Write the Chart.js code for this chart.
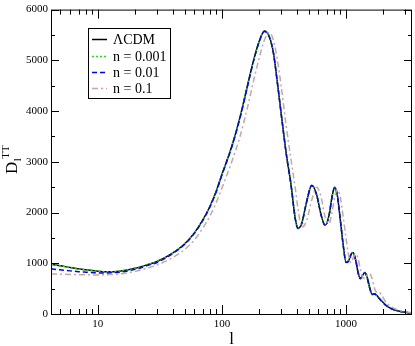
<!DOCTYPE html>
<html>
<head>
<meta charset="utf-8">
<script src="https://cdn.jsdelivr.net/npm/chart.js@4"></script>
<style>
  html, body { margin: 0; padding: 0; background: #fff; }
  #wrap { width: 415px; height: 346px; }
</style>
</head>
<body>
<div id="wrap"><canvas id="chart-tt" width="415" height="346"></canvas></div>
<script>
// multipole grid shared by all curves
const ells = [4.2, 5, 6, 7, 8, 10, 12, 15, 20, 25, 30, 40, 50, 60, 70, 80, 90, 100, 120, 140,
  160, 180, 200, 220, 240, 260, 280, 300, 330, 360, 390, 410, 440, 480, 530, 580, 630, 680,
  730, 770, 810, 850, 900, 950, 1000, 1050, 1100, 1140, 1200, 1250, 1300, 1360, 1420, 1480,
  1550, 1620, 1700, 1780, 1850, 1950, 2100, 2300, 2500, 2800, 3100, 3400];

const lcdm = [980, 950, 915, 890, 870, 845, 835, 845, 900, 970, 1035, 1200, 1380, 1600, 1850,
  2120, 2420, 2750, 3300, 3880, 4480, 5000, 5380, 5580, 5480, 5150, 4560, 3960, 3160, 2560,
  1880, 1690, 1790, 2200, 2540, 2350, 1950, 1750, 1950, 2300, 2500, 2350, 1850, 1350, 1020,
  1050, 1180, 1210, 1050, 820, 700, 760, 820, 720, 520, 390, 400, 360, 310, 250, 170, 110,
  75, 45, 30, 20];

const n0001 = [978, 948, 913, 888, 868, 843, 834, 844, 899, 969, 1034, 1199, 1379, 1599, 1849,
  2119, 2418, 2748, 3298, 3878, 4478, 4998, 5378, 5578, 5478, 5148, 4558, 3958, 3158, 2558,
  1879, 1689, 1789, 2199, 2538, 2349, 1949, 1749, 1949, 2299, 2499, 2349, 1849, 1349, 1019,
  1049, 1179, 1209, 1049, 819, 699, 759, 819, 719, 519, 389, 399, 359, 309, 249, 169, 109,
  75, 45, 30, 20];

const n001 = [890, 870, 850, 835, 825, 810, 810, 825, 880, 955, 1015, 1190, 1370, 1590, 1840,
  2110, 2410, 2740, 3290, 3870, 4470, 4990, 5370, 5570, 5470, 5140, 4550, 3950, 3150, 2550,
  1875, 1685, 1785, 2195, 2535, 2345, 1945, 1745, 1945, 2295, 2495, 2345, 1845, 1345, 1015,
  1045, 1175, 1205, 1045, 815, 695, 755, 815, 715, 515, 385, 395, 355, 305, 245, 168, 108,
  74, 44, 30, 20];

const n01 = [790, 785, 780, 775, 772, 770, 775, 790, 840, 905, 965, 1110, 1270, 1460, 1690,
  1930, 2200, 2480, 3000, 3500, 4050, 4600, 5050, 5400, 5550, 5400, 5000, 4500, 3700, 3050,
  2480, 2080, 1710, 1830, 2250, 2500, 2300, 1900, 1780, 2000, 2300, 2450, 2300, 1900, 1500,
  1150, 1010, 1100, 1180, 1100, 900, 720, 700, 770, 800, 700, 500, 420, 420, 360, 230, 150,
  100, 60, 40, 28];

const yTicks = [0, 1000, 2000, 3000, 4000, 5000, 6000];
const yMinor = [500, 1500, 2500, 3500, 4500, 5500];
const xTicks = [10, 100, 1000];
const xMinor = [5, 6, 7, 8, 9, 20, 30, 40, 50, 60, 70, 80, 90,
  200, 300, 400, 500, 600, 700, 800, 900, 2000, 3000];

const SERIF = '"Liberation Serif", "DejaVu Serif", serif';

const toPts = vals => ells.map((l, i) => ({ x: l, y: vals[i] }));

// frame, inward ticks, titles and inset legend
const framePlugin = {
  id: 'frame',
  afterDraw(chart) {
    const { ctx, chartArea: a, scales } = chart;
    const xs = scales.x, ys = scales.y;
    ctx.save();
    ctx.strokeStyle = '#000';
    ctx.lineWidth = 1;
    ctx.strokeRect(a.left + 0.5, a.top + 0.5, a.right - a.left - 1, a.bottom - a.top);

    ctx.beginPath();
    const xt = (v, len) => {
      const p = Math.round(xs.getPixelForValue(v)) + 0.5;
      ctx.moveTo(p, a.bottom); ctx.lineTo(p, a.bottom - len);
      ctx.moveTo(p, a.top); ctx.lineTo(p, a.top + len);
    };
    const yt = (v, len) => {
      const p = Math.round(ys.getPixelForValue(v)) + 0.5;
      ctx.moveTo(a.left, p); ctx.lineTo(a.left + len, p);
      ctx.moveTo(a.right, p); ctx.lineTo(a.right - len, p);
    };
    xTicks.forEach(v => xt(v, 9));
    xMinor.forEach(v => xt(v, 5));
    yTicks.forEach(v => yt(v, 8));
    yMinor.forEach(v => yt(v, 4));
    ctx.stroke();

    // x title
    ctx.fillStyle = '#000';
    ctx.font = '17px ' + SERIF;
    ctx.textAlign = 'center';
    ctx.textBaseline = 'alphabetic';
    ctx.fillText('l', (a.left + a.right) / 2, 344);

    // y title D_l^TT
    ctx.save();
    ctx.translate(17, 174);
    ctx.rotate(-Math.PI / 2);
    ctx.textAlign = 'left';
    ctx.font = '17px ' + SERIF;
    ctx.fillText('D', 0, 0);
    const dw = ctx.measureText('D').width;
    ctx.font = '11px ' + SERIF;
    ctx.fillText('l', dw + 0.5, 4);
    ctx.fillText('TT', dw + 3, -8);
    ctx.restore();

    // legend
    const lx = 88, ly = 28, lw = 82, lh = 70;
    ctx.fillStyle = '#fff';
    ctx.fillRect(lx, ly, lw, lh);
    ctx.strokeStyle = '#000';
    ctx.lineWidth = 1;
    ctx.strokeRect(lx + 0.5, ly + 0.5, lw, lh);
    const rows = [39, 56, 72, 88];
    ctx.textAlign = 'left';
    ctx.textBaseline = 'middle';
    chart.data.datasets.forEach((ds, i) => {
      const y = rows[i] + 0.5;
      ctx.strokeStyle = ds.borderColor;
      ctx.lineWidth = ds.borderWidth;
      ctx.setLineDash(ds.borderDash || []);
      ctx.beginPath();
      ctx.moveTo(92, y); ctx.lineTo(107, y);
      ctx.stroke();
      ctx.setLineDash([]);
      ctx.fillStyle = '#000';
      ctx.font = '14px ' + SERIF;
      ctx.fillText(ds.label, 113, rows[i] + 1);
    });
    ctx.restore();
  }
};

const line = (label, vals, color, dash, order) => ({
  label,
  data: toPts(vals),
  borderColor: color,
  borderWidth: 1.5,
  borderDash: dash,
  pointRadius: 0,
  fill: false,
  cubicInterpolationMode: 'monotone',
  order,
});

new Chart(document.getElementById('chart-tt'), {
  type: 'line',
  data: {
    datasets: [
      line('\u039BCDM', lcdm, '#000000', [], 4),
      line('n = 0.001', n0001, '#22dd22', [2, 2], 3),
      line('n = 0.01', n001, '#0000ff', [5, 3], 2),
      line('n = 0.1', n01, '#cfa3a3', [6, 3, 2, 3], 1),
    ],
  },
  options: {
    responsive: false,
    animation: false,
    layout: { padding: { left: 0, right: 3, top: 5, bottom: 0 } },
    plugins: { legend: { display: false }, tooltip: { enabled: false } },
    scales: {
      x: {
        type: 'logarithmic',
        min: 4.2,
        max: 3400,
        grid: { display: false, drawTicks: false },
        border: { display: false },
        afterBuildTicks: s => { s.ticks = xTicks.map(v => ({ value: v })); },
        afterFit: s => { s.height = 32; },
        ticks: {
          autoSkip: false, maxRotation: 0, padding: 4, color: '#000',
          font: { family: SERIF, size: 11 },
          callback: v => String(v),
        },
      },
      y: {
        min: 0,
        max: 6000,
        grid: { display: false, drawTicks: false },
        border: { display: false },
        afterBuildTicks: s => { s.ticks = yTicks.map(v => ({ value: v })); },
        afterFit: s => { s.width = 51; },
        ticks: {
          padding: 3, color: '#000',
          font: { family: SERIF, size: 11 },
          callback: v => String(v),
        },
      },
    },
  },
  plugins: [framePlugin],
});
</script>
</body>
</html>
